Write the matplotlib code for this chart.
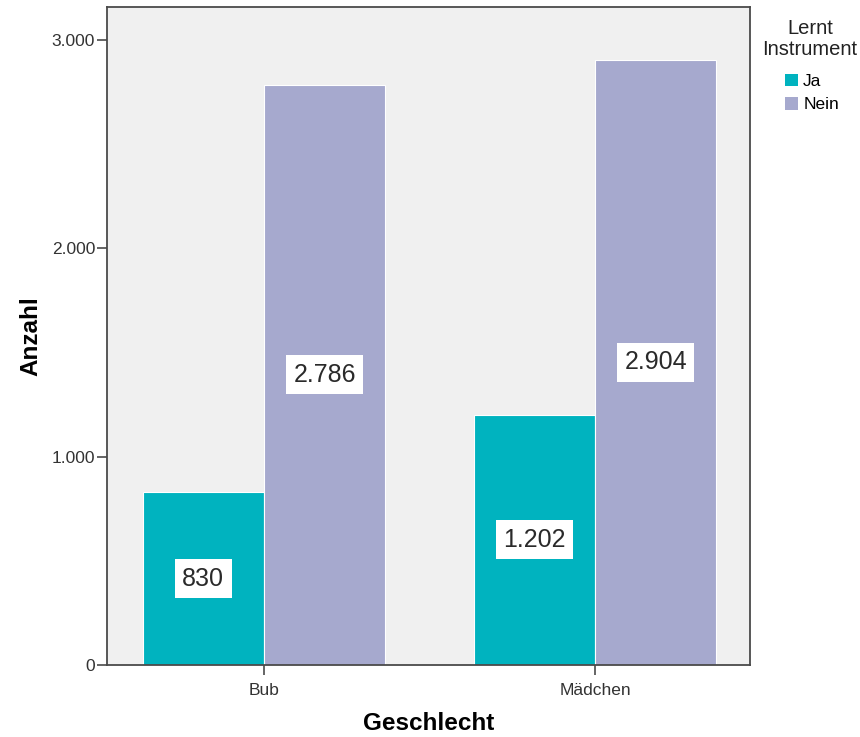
import matplotlib
matplotlib.use("Agg")
import matplotlib.pyplot as plt
import numpy as np
from matplotlib.patches import Patch

# Anzahl nach Geschlecht und Instrument
geschlecht = ["Bub", "Mädchen"]
ja = [830, 1202]
nein = [2786, 2904]
yticks = [0, 1000, 2000, 3000]
ytick_labels = ["0", "1.000", "2.000", "3.000"]

C_JA = "#00b3bf"
C_NEIN = "#a6a9ce"
BG = "#f0f0f0"
SPINE = "#4a4a4a"

plt.rcParams["font.family"] = ["Liberation Sans", "DejaVu Sans"]

fig = plt.figure(figsize=(8.6, 7.37), dpi=100)
ax = fig.add_axes([0.1244, 0.0977, 0.7477, 0.8928])
ax.set_facecolor(BG)

x = np.arange(len(geschlecht))
w = 0.366
b1 = ax.bar(x - w / 2, ja, width=w, color=C_JA, edgecolor="white", linewidth=0.8, zorder=2)
b2 = ax.bar(x + w / 2, nein, width=w, color=C_NEIN, edgecolor="white", linewidth=0.8, zorder=2)

def fmt(v):
    return f"{v:,}".replace(",", ".")

for bars, vals in ((b1, ja), (b2, nein)):
    for b, v in zip(bars, vals):
        ax.text(b.get_x() + b.get_width() / 2, v / 2, fmt(v),
                ha="center", va="center", fontsize=18, color="#2a2a2a", zorder=3,
                bbox=dict(boxstyle="square,pad=0.3", facecolor="white", edgecolor="none"))

ax.set_xlim(-0.474, 1.468)
ax.set_ylim(0, 3158)
ax.set_xticks(x)
ax.set_xticklabels(geschlecht, fontsize=12.5, color="#333333")
ax.set_yticks(yticks)
ax.set_yticklabels(ytick_labels, fontsize=12.5, color="#333333")
ax.tick_params(axis="both", direction="out", length=7, width=1.2, color=SPINE)
ax.tick_params(axis="y", pad=1.5)
ax.tick_params(axis="x", pad=6)

for sp in ax.spines.values():
    sp.set_edgecolor(SPINE)
    sp.set_linewidth(1.3)

ax.set_xlabel("Geschlecht", fontsize=17.5, fontweight="bold", labelpad=10)
ax.set_ylabel("Anzahl", fontsize=17.5, fontweight="bold", labelpad=7)

# legend title drawn separately so the gap to the entries can be set freely
fig.text(0.942, 0.947, "Lernt\nInstrument", ha="center", va="center",
         multialignment="center", fontsize=14.5, color="#222222", linespacing=1.1)
handles = [Patch(facecolor=C_JA, edgecolor="none", label="Ja"),
           Patch(facecolor=C_NEIN, edgecolor="none", label="Nein")]
fig.legend(handles=handles, loc="center left", bbox_to_anchor=(0.9128, 0.8738),
           frameon=False, fontsize=12.5, handlelength=0.75, handleheight=0.75,
           handletextpad=0.3, labelspacing=0.45, borderpad=0, borderaxespad=0)

fig.savefig("out.png", dpi=100, facecolor="white")
